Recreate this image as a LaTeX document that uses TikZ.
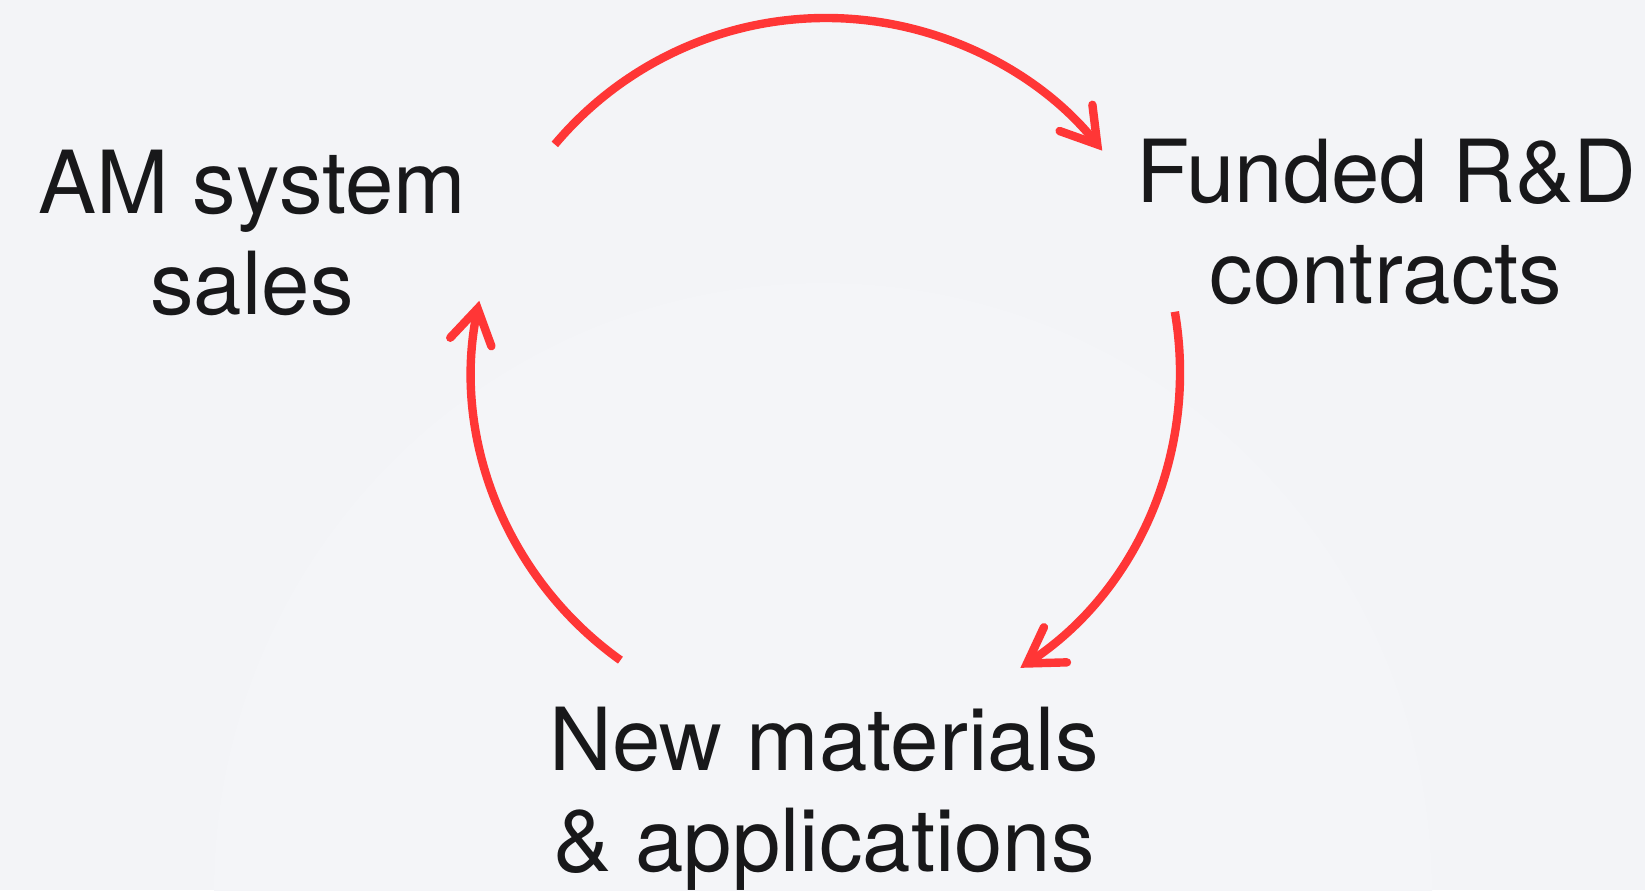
\documentclass[tikz,border=0pt]{standalone}
\usepackage{fontspec}
\setmainfont{TeX Gyre Heros}
\usetikzlibrary{arrows.meta}
\definecolor{loopred}{RGB}{255,54,54}
\definecolor{paper}{RGB}{243,244,247}
\definecolor{glow}{RGB}{244,245,248}
\definecolor{ink}{RGB}{24,24,26}

\begin{document}
\begin{tikzpicture}[
                x=0.5pt, y=0.5pt,
                stagetext/.style={align=center, text=ink, inner sep=0pt, anchor=base,
                    font=\fontsize{43.5}{50.5}\selectfont},
                cyclearrow/.style={draw=loopred, line width=4.2pt,
                    -{Straight Barb[length=17pt, width=21pt, line cap=round, line join=miter]}}
                ]
                %% Background
                \fill[paper] (0,0) rectangle (1645,890);
                \useasboundingbox (0,0) rectangle (1645,890);
                \fill[glow] (823,-2) circle (304.5pt);

                %% Centre of the loop
                \coordinate (hub) at (826,518);

                %% Stages (anchored on the baseline of their last line)
                \node[stagetext] (sales) at (252,575) {AM system\\sales};
                \node[stagetext] (contracts) at (1386,586) {Funded R\&D\\contracts};
                \node[stagetext] (materials) at (824,19) {New materials\\\& applications};

                %% Arcs between the stages
                \draw[cyclearrow] ([shift={(140:177pt)}]hub) arc[start angle=140, end angle=38.7, radius=177pt];
                \draw[cyclearrow] ([shift={(9.8:177pt)}]hub) arc[start angle=9.8, end angle=-56.7, radius=177pt];
                \draw[cyclearrow] ([shift={(234.5:177pt)}]hub) arc[start angle=234.5, end angle=168.4, radius=177pt];
\end{tikzpicture}
\end{document}
